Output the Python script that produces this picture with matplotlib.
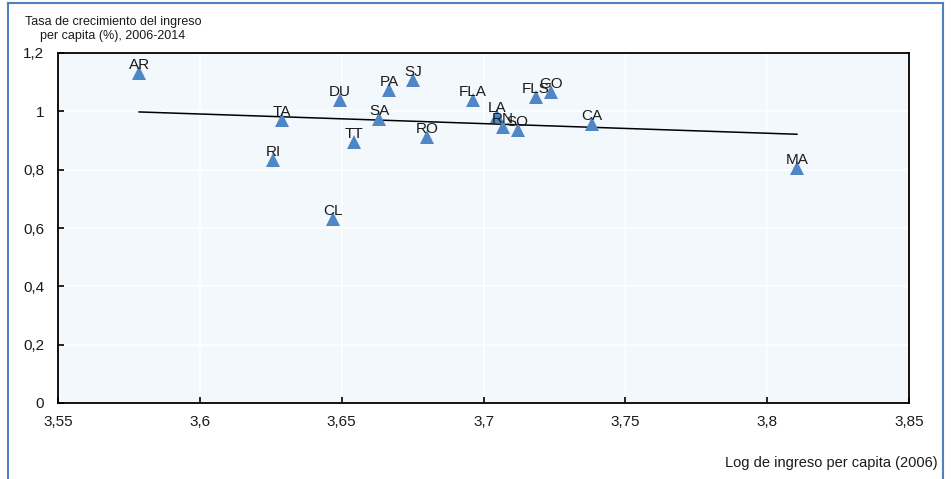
import numpy as np
import matplotlib
matplotlib.use("Agg")
import matplotlib.pyplot as plt
from matplotlib.lines import Line2D

plt.rcParams['font.family'] = ['Liberation Sans', 'DejaVu Sans']

labels = ["AR", "TA", "RI", "DU", "CL", "TT", "SA", "PA", "SJ", "RO",
          "FLA", "LA", "RN", "SO", "FLS", "GO", "CA", "MA"]
log_income = [3.5786, 3.6290, 3.6258, 3.6494, 3.6469, 3.6543, 3.6632, 3.6667, 3.6751, 3.6801,
              3.6963, 3.7047, 3.7069, 3.7121, 3.7185, 3.7238, 3.7382, 3.8105]
growth = [1.131, 0.970, 0.833, 1.039, 0.631, 0.895, 0.974, 1.073, 1.107, 0.912,
          1.039, 0.984, 0.946, 0.936, 1.049, 1.066, 0.956, 0.806]

xticks = [3.55, 3.6, 3.65, 3.7, 3.75, 3.8, 3.85]
xtick_labels = ["3,55", "3,6", "3,65", "3,7", "3,75", "3,8", "3,85"]
yticks = [0, 0.2, 0.4, 0.6, 0.8, 1.0, 1.2]
ytick_labels = ["0", "0,2", "0,4", "0,6", "0,8", "1", "1,2"]

fig = plt.figure(figsize=(9.53, 4.79), dpi=100)
ax = fig.add_axes([58/953, 1-403/479, (909-58)/953, (403-53)/479])
ax.set_facecolor('#F3F8FC')

x = np.array(log_income)
y = np.array(growth)
coef = np.polyfit(x, y, 1)
xl = np.array([x.min(), x.max()])
ax.plot(xl, np.polyval(coef, xl), color='black', lw=1.1, zorder=2)

ax.plot(x, y, linestyle='none', marker='^', markersize=10, color='#4F86C6',
        markeredgewidth=0, zorder=3)
for lab, xi, yi in zip(labels, x, y):
    ax.annotate(lab, (xi, yi), xytext=(0, 3), textcoords='offset points',
                ha='center', va='baseline', fontsize=11, color='#1a1a1a', zorder=4)

ax.set_xlim(3.55, 3.85)
ax.set_ylim(0, 1.2)
ax.set_xticks(xticks)
ax.set_xticklabels(xtick_labels)
ax.set_yticks(yticks)
ax.set_yticklabels(ytick_labels)
ax.tick_params(direction='in', length=4, width=1.2, labelsize=11, colors='black',
               labelcolor='#1a1a1a')
ax.tick_params(axis='y', pad=10)
ax.tick_params(axis='x', pad=9)
ax.grid(True, color='white', lw=1.2)
ax.set_axisbelow(True)
for s in ax.spines.values():
    s.set_linewidth(1.3)
    s.set_color('black')

fig.text(113/953, 1-16/479, "Tasa de crecimiento del ingreso\nper capita (%), 2006-2014",
         ha='center', va='top', fontsize=9, multialignment='center', linespacing=1.25,
         color='#1a1a1a')
fig.text(938/953, 1-463/479, "Log de ingreso per capita (2006)", ha='right', va='center',
         fontsize=10.5, color='#1a1a1a')

bc = '#4F81BD'
fig.add_artist(Line2D([8/953, 8/953], [0, 1-3/479], color=bc, lw=1.5, transform=fig.transFigure))
fig.add_artist(Line2D([8/953, 943/953], [1-3/479, 1-3/479], color=bc, lw=1.5, transform=fig.transFigure))
fig.add_artist(Line2D([943/953, 943/953], [0, 1-3/479], color=bc, lw=1.5, transform=fig.transFigure))

fig.savefig("out.png", dpi=100)
